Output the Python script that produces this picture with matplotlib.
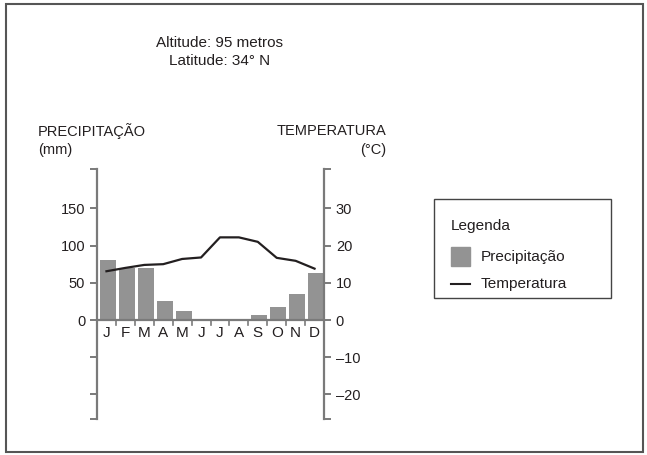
import matplotlib
matplotlib.use("Agg")
import matplotlib.pyplot as plt
from matplotlib.patches import Rectangle
from matplotlib.lines import Line2D
import numpy as np

plt.rcParams['font.family'] = ['Liberation Sans', 'DejaVu Sans']

months = ["J", "F", "M", "A", "M", "J", "J", "A", "S", "O", "N", "D"]
precip_mm = [80, 70, 70, 25, 12, 0, 0, 0, 7, 17, 35, 63]
temp_c = [13.1, 14.0, 14.8, 15.0, 16.4, 16.8, 22.2, 22.2, 21.0, 16.7, 15.9, 13.8]
precip_ticks = [0, 50, 100, 150]
temp_ticks = [-20, -10, 0, 10, 20, 30]
temp_labels = ["\u201320", "\u201310", "0", "10", "20", "30"]

W, H = 647, 455
fig = plt.figure(figsize=(W / 100, H / 100), dpi=100)

def fx(x):
    return x / W

def fy(y):
    return 1 - y / H

AX = "#7a7a7a"
TXT = "#231f20"
BAR = "#939393"
FS = 10.5
LFS = 11.1

ax_left, ax_right, ax_top, ax_bot = 97, 324, 169, 419
ax = fig.add_axes([fx(ax_left), fy(ax_bot), fx(ax_right - ax_left), (ax_bot - ax_top) / H])
ax.patch.set_visible(False)
ymin_mm, ymax_mm = -132.9, 202.8
ax.set_xlim(0, 12)
ax.set_ylim(ymin_mm, ymax_mm)

x = np.arange(12) + 0.5
ax.bar(x + 0.08, precip_mm, width=0.84, color=BAR, zorder=2)

ax2 = ax.twinx()
ax2.set_ylim(ymin_mm / 5, ymax_mm / 5)
ax2.plot(x, temp_c, color=TXT, lw=1.6, zorder=3)

for a in (ax, ax2):
    for s in ("top", "bottom"):
        a.spines[s].set_visible(False)
    a.set_xticks([])
ax.spines["right"].set_visible(False)
ax2.spines["left"].set_visible(False)
ax.spines["left"].set_color(AX)
ax.spines["left"].set_linewidth(1.6)
ax2.spines["right"].set_color(AX)
ax2.spines["right"].set_linewidth(1.6)

# left ticks
lt = [ymin_mm, -100, -50] + precip_ticks + [ymax_mm]
ax.set_yticks(lt)
ax.set_yticklabels([""] * 3 + [str(t) for t in precip_ticks] + [""], fontsize=FS, color=TXT)
ax.tick_params(axis="y", direction="out", length=5, width=1.4, color=AX, pad=3.5)

rt = [ymin_mm / 5] + temp_ticks + [ymax_mm / 5]
ax2.set_yticks(rt)
ax2.set_yticklabels([""] + temp_labels + [""], fontsize=FS, color=TXT)
ax2.tick_params(axis="y", direction="out", length=5, width=1.4, color=AX, pad=3.5)

# x axis line at zero with month boundary ticks
ax.axhline(0, color=AX, lw=1.6, zorder=4)
for b in range(1, 12):
    ax.plot([b, b], [0, -7], color=AX, lw=1.2, clip_on=False, zorder=4)
for xi, m in zip(x, months):
    ax.text(xi, -17, m, ha="center", va="center", fontsize=FS + 0.5, color=TXT)

# header texts
fig.text(fx(220), fy(43), "Altitude: 95 metros", ha="center", va="center", fontsize=FS + 0.5, color=TXT)
fig.text(fx(220), fy(61), "Latitude: 34\u00b0 N", ha="center", va="center", fontsize=FS + 0.5, color=TXT)
fig.text(fx(38), fy(131), "PRECIPITAÇÃO", ha="left", va="center", fontsize=FS, color=TXT)
fig.text(fx(38), fy(150), "(mm)", ha="left", va="center", fontsize=FS, color=TXT)
fig.text(fx(386), fy(131), "TEMPERATURA", ha="right", va="center", fontsize=FS, color=TXT)
fig.text(fx(386), fy(150), "(\u00b0C)", ha="right", va="center", fontsize=FS, color=TXT)

# legend box
fig.patches.append(Rectangle((fx(434), fy(298)), fx(611 - 434), (298 - 199) / H,
                             transform=fig.transFigure, fill=False, ec="#444444", lw=1.0))
fig.text(fx(451), fy(226), "Legenda", ha="left", va="center", fontsize=LFS, color=TXT)
fig.patches.append(Rectangle((fx(451), fy(266)), fx(19), 19 / H,
                             transform=fig.transFigure, color=BAR))
fig.text(fx(481), fy(256.5), "Precipitação", ha="left", va="center", fontsize=LFS, color=TXT)
fig.lines.append(Line2D([fx(451), fx(470)], [fy(283.5), fy(283.5)],
                        transform=fig.transFigure, color=TXT, lw=1.5))
fig.text(fx(481), fy(284), "Temperatura", ha="left", va="center", fontsize=LFS, color=TXT)

# outer frame
fig.patches.append(Rectangle((fx(6), fy(452)), fx(643 - 6), (452 - 4) / H,
                             transform=fig.transFigure, fill=False, ec="#555555", lw=1.5))

fig.savefig("out.png", dpi=100)
